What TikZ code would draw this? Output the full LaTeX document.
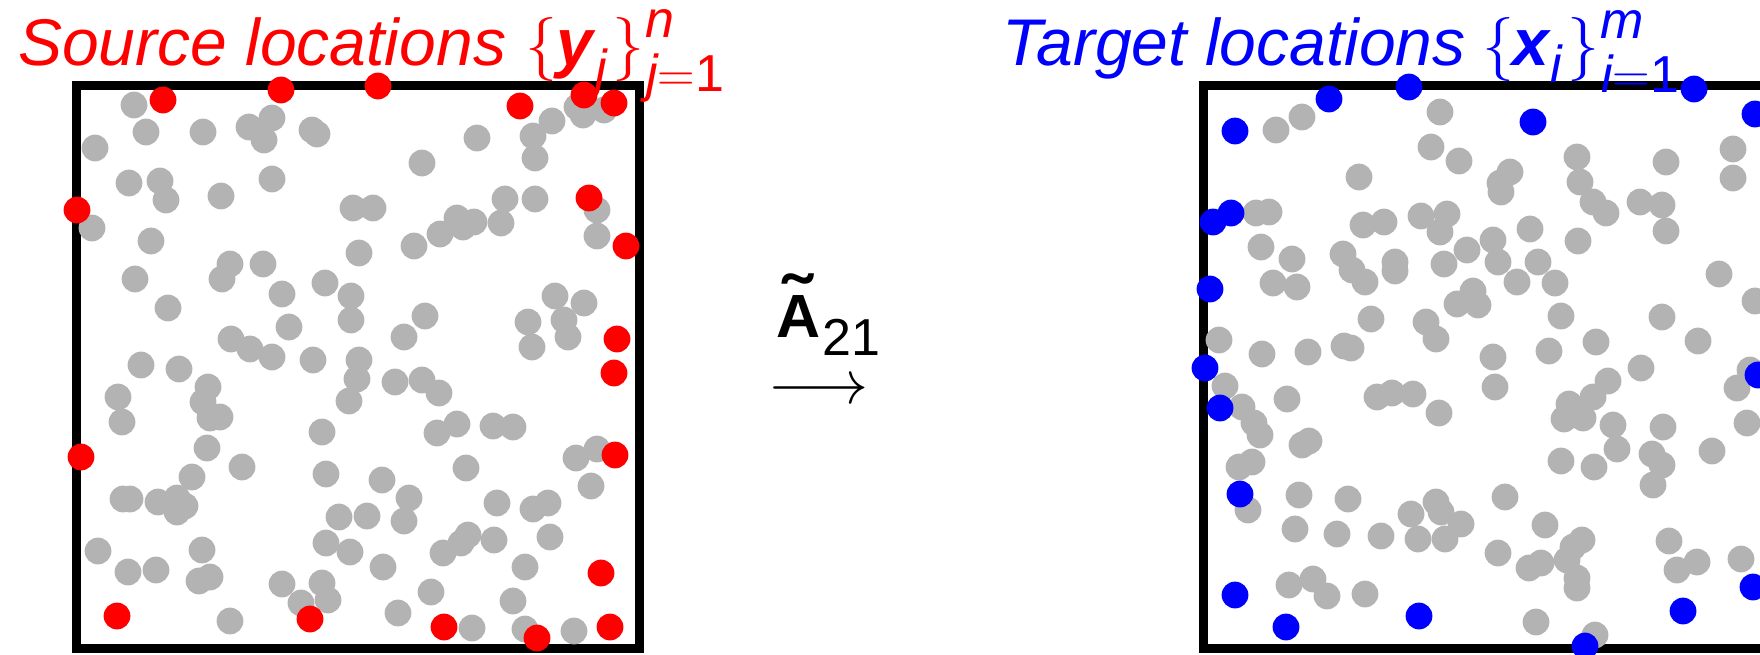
\RequirePackage{fix-cm}
\documentclass[tikz,border=0pt]{standalone}
\usepackage{amsmath}
\usepackage{fontspec}
\setmainfont{Liberation Sans}
\definecolor{dotgray}{RGB}{179,179,179}
\definecolor{srcred}{RGB}{255,0,0}
\definecolor{tgtblue}{RGB}{0,0,255}
\tikzset{
  frame/.style={line width=9pt, line join=miter},
  gdot/.style={fill=dotgray},
  rdot/.style={fill=srcred},
  bdot/.style={fill=tgtblue},
  txt/.style={anchor=base west, inner sep=0pt},
  big/.style={txt, font=\fontsize{66}{72}\selectfont\itshape},
  brace/.style={txt, font=\fontsize{64}{70}\selectfont},
  bolditem/.style={txt, font=\fontsize{66}{72}\selectfont\bfseries\itshape},
  scr/.style={txt, font=\fontsize{52}{58}\selectfont\itshape},
}
\begin{document}
\begin{tikzpicture}[x=1pt,y=-1pt]
\useasboundingbox (0,0) rectangle (1760,654);
% frames
\draw[frame] (76,85.5) rectangle (639.5,648);
\draw[frame] (1203,85.5) rectangle (1766,648);
% left gray points
\foreach \p in {(134,105),(146,132),(203,132),(249,127),(272,118),(264,140),(312,130),(317,134),(95,148),(129,183),(160,181),(166,200),(221,196),(272,179),(353,208),(373,208),(92,228),(151,241),(359,253),(230,264),(222,279),(263,264),(135,279),(325,283),(282,294),(351,296),(168,308),(289,327),(351,320),(231,339),(250,349),(272,357),(313,360),(141,365),(179,369),
(477,138),(422,163),(552,121),(533,136),(535,158),(577,107),(583,115),(604,110),(505,199),(535,199),(501,223),(474,222),(457,218),(463,227),(440,234),(414,246),(597,210),(597,236),(555,296),(584,303),(528,322),(564,320),(568,337),(532,347),(425,316),(404,337),(359,360),
(357,379),(349,401),(118,397),(122,422),(208,387),(203,402),(210,418),(220,417),(207,448),(322,432),(242,467),(326,474),(192,477),(123,499),(130,499),(158,502),(177,498),(185,506),(177,512),(339,517),(367,516),(326,543),(350,552),(98,551),(202,550),(128,572),(156,570),(199,581),(210,577),(282,584),(322,583),(328,600),(301,603),(230,621),
(395,382),(422,380),(439,393),(437,433),(457,424),(493,426),(513,427),(466,468),(382,480),(409,498),(404,521),(383,567),(443,553),(461,543),(468,535),(494,540),(497,503),(533,509),(548,503),(550,537),(525,567),(576,458),(597,449),(591,486),(431,592),(398,613),(513,601),(472,628),(525,629),(574,631)}
  \fill[gdot] \p circle (13.4pt);
% right gray points
\foreach \p in {(1276,130),(1302,117),(1440,112),(1431,147),(1459,161),(1359,177),(1256,213),(1269,212),(1363,225),(1384,222),(1421,216),(1447,214),(1440,232),(1261,247),(1292,259),(1343,254),(1352,270),(1365,282),(1395,262),(1395,271),(1444,264),(1467,250),(1273,283),(1297,287),(1371,319),(1426,322),(1436,339),(1457,304),(1473,291),(1478,305),(1219,340),(1262,354),(1308,352),(1344,346),(1351,348),
(1577,157),(1580,182),(1593,202),(1606,213),(1666,162),(1733,149),(1733,178),(1640,202),(1662,205),(1666,231),(1510,172),(1500,183),(1501,192),(1530,229),(1493,240),(1498,262),(1538,262),(1517,282),(1555,283),(1578,241),(1719,274),(1755,301),(1561,316),(1662,317),(1698,341),(1596,342),(1549,351),(1493,357),
(1225,386),(1242,407),(1254,423),(1260,435),(1287,399),(1377,397),(1392,393),(1413,394),(1439,413),(1302,445),(1309,441),(1239,467),(1252,462),(1248,510),(1299,495),(1348,499),(1295,529),(1337,534),(1381,536),(1411,514),(1436,502),(1441,512),(1461,524),(1418,539),(1445,539),(1289,585),(1313,579),(1327,596),(1365,594),
(1495,387),(1608,381),(1641,368),(1593,397),(1569,404),(1564,419),(1583,418),(1613,425),(1617,449),(1663,427),(1652,454),(1662,465),(1653,485),(1561,461),(1594,467),(1712,451),(1747,423),(1737,388),(1750,370),(1505,497),(1545,525),(1498,553),(1529,568),(1541,563),(1567,560),(1582,540),(1573,547),(1577,578),(1577,588),(1669,541),(1677,570),(1697,562),(1741,559),(1536,622),(1595,635)}
  \fill[gdot] \p circle (13.4pt);
% source points
\foreach \p in {(163,100),(281,90),(378,86),(520,106),(584,95),(614,103),(77,210),(589,198),(626,246),(617,339),(614,373),(81,457),(615,455),(601,573),(117,616),(310,619),(444,627),(537,638),(610,627)}
  \fill[rdot] \p circle (13.4pt);
% target points
\foreach \p in {(1235,131),(1329,99),(1409,87),(1231,213),(1213,222),(1210,289),(1205,368),(1220,408),(1240,494),(1235,595),(1286,627),(1419,616),(1533,122),(1694,89),(1755,114),(1758,375),(1753,587),(1683,611),(1585,646)}
  \fill[bdot] \p circle (13.4pt);
% source title
\begin{scope}[every node/.append style={text=srcred}]
\node[big] (src) at (18,65) {Source locations};
\node[brace] (srcL) at (525,65) {$\{$};
\node[bolditem] (srcy) at (556,65) {y};
\node[scr] (srcj) at (595,86) {j};
\node[brace] (srcR) at (612,65) {$\}$};
\node[scr] (srcn) at (645,37) {n};
\node[scr] (srcl) at (646,91) {j$=$\upshape 1};
\end{scope}
% target title
\begin{scope}[every node/.append style={text=tgtblue}]
\node[big] (tgt) at (1002,65) {Target locations};
\node[brace] (tgtL) at (1482,65) {$\{$};
\node[bolditem] (tgtx) at (1512,65) {x};
\node[scr] (tgti) at (1550,82) {i};
\node[brace] (tgtR) at (1567,65) {$\}$};
\node[scr] (tgtm) at (1600,38) {m};
\node[scr] (tgtl) at (1601,92) {i$=$\upshape 1};
\end{scope}
% operator
\node[txt, font=\fontsize{61}{66}\selectfont\bfseries] (At) at (776,337) {A};
\node[anchor=north, inner sep=0pt, font=\fontsize{61}{66}\selectfont\bfseries] (tilde) at (797,274) {\scalebox{1.4}[1.2]{\char"02DC}};
\node[txt, font=\fontsize{52}{60}\selectfont] (sub) at (822,355) {21};
\node[txt, font=\fontsize{62}{70}\selectfont] (arr) at (768,403) {$\longrightarrow$};
\end{tikzpicture}
\end{document}
